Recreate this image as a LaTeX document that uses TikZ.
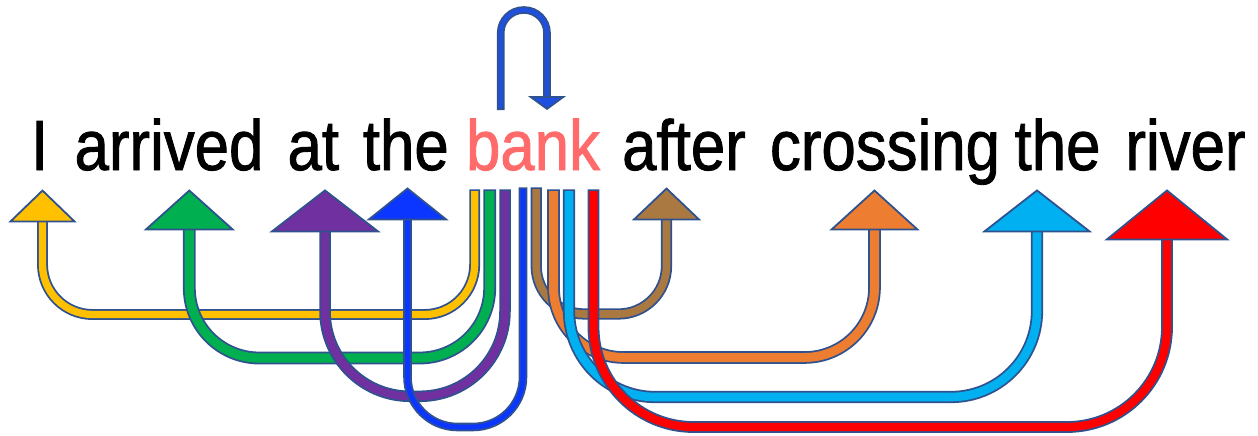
\documentclass[tikz,border=0pt]{standalone}
\usepackage{fontspec}
\usepackage{xcolor}
\usepackage{tikz}
\usetikzlibrary{arrows.meta, calc}
\newfontfamily\wordfont[FakeStretch=0.87, FakeBold=1.2]{Liberation Sans}
\definecolor{rimblue}{HTML}{2F528F}
\definecolor{bankred}{HTML}{FF6B6B}
\definecolor{linkyellow}{HTML}{FFC000}
\definecolor{linkgreen}{HTML}{00B050}
\definecolor{linkpurple}{HTML}{7030A0}
\definecolor{linkblue}{HTML}{0A36FF}
\definecolor{loopblue}{HTML}{1F4FE0}
\definecolor{linkbrown}{HTML}{AA7942}
\definecolor{linkorange}{HTML}{ED7D31}
\definecolor{linkcyan}{HTML}{00B0F0}
\definecolor{linkred}{HTML}{FF0000}
\tikzset{
  word/.style={anchor=base, inner sep=0pt,
               font=\wordfont\fontsize{71pt}{80pt}\selectfont}
}
% #1 colour, #2 shaft width, #3 head width, #4 head length, #5 bend radius, #6 path
\newcommand{\linkarrow}[6]{%
  \draw[rounded corners=#5, line width=#2+3.6pt, draw=rimblue,
        -{Triangle[width=#3, length=#4, fill=#1, line width'=1.8pt]}] #6;
  \draw[rounded corners=#5, line width=#2, draw=#1,
        shorten <=1.8pt, shorten >=#4] #6;
}

\begin{document}
\begin{tikzpicture}[x=1pt, y=-1pt]
  \useasboundingbox (0,0) rectangle (1258,436);

  % the sentence
  \node[word] (w1) at (39.7,170) {I};
  \node[word] (w2) at (169,170) {arrived};
  \node[word] (w3) at (313.3,170) {at};
  \node[word] (w4) at (405.8,170) {the};
  \node[word, text=bankred] (bank) at (533,170) {bank};
  \node[word] (w6) at (684,170) {after};
  \node[word] (w7) at (885,170) {crossing};
  \node[word] (w8) at (1057.5,170) {the};
  \node[word] (w9) at (1185.5,170) {river};

  % feet under "bank"
  \coordinate (b1) at ([shift={(-58.3,19.3)}]bank.base);
  \coordinate (b2) at ([shift={(-43.3,19.3)}]bank.base);
  \coordinate (b3) at ([shift={(-28,19.3)}]bank.base);
  \coordinate (b4) at ([shift={(-10,17.3)}]bank.base);
  \coordinate (b5) at ([shift={(3.2,17.3)}]bank.base);
  \coordinate (b6) at ([shift={(20.5,19.3)}]bank.base);
  \coordinate (b7) at ([shift={(36,19.3)}]bank.base);
  \coordinate (b8) at ([shift={(60.5,19.3)}]bank.base);
  \coordinate (la) at ([shift={(-32.3,-60)}]bank.base);
  \coordinate (lb) at ([shift={(14,-60)}]bank.base);

  % heads under the other words
  \coordinate (t1) at ([shift={(2.8,19.3)}]w1.base);
  \coordinate (t2) at ([shift={(20.3,19.3)}]w2.base);
  \coordinate (t3) at ([shift={(11.7,19.3)}]w3.base);
  \coordinate (t4) at ([shift={(1.7,17.3)}]w4.base);
  \coordinate (t6) at ([shift={(-17.5,17.3)}]w6.base);
  \coordinate (t7) at ([shift={(-10.5,19.3)}]w7.base);
  \coordinate (t8) at ([shift={(-20.5,19.3)}]w8.base);
  \coordinate (t9) at ([shift={(-18.5,19.3)}]w9.base);

  % bank to itself
  \linkarrow{loopblue}{4pt}{38pt}{14pt}{23pt}{(la) -- ++(0,-100) -| (lb)}

  % links to the left
  \linkarrow{linkyellow}{7.3pt}{68pt}{33pt}{50pt}{(b1) -- ++(0,125.2) -| (t1)}
  \linkarrow{linkgreen}{9.2pt}{91pt}{41pt}{70pt}{(b2) -- ++(0,168.7) -| (t2)}
  \linkarrow{linkpurple}{7.9pt}{111pt}{43pt}{85pt}{(b3) -- ++(0,207) -| (t3)}
  \linkarrow{linkblue}{5pt}{82pt}{33pt}{50pt}{(b4) -- ++(0,239.7) -| (t4)}

  % links to the right
  \linkarrow{linkbrown}{7.6pt}{69pt}{33pt}{48pt}{(b5) -- ++(0,126.7) -| (t6)}
  \linkarrow{linkorange}{9pt}{90pt}{41pt}{70pt}{(b6) -- ++(0,168.2) -| (t7)}
  \linkarrow{linkcyan}{8.6pt}{110pt}{43pt}{86pt}{(b7) -- ++(0,207.7) -| (t8)}
  \linkarrow{linkred}{8.2pt}{125pt}{51pt}{100pt}{(b8) -- ++(0,237.7) -| (t9)}
\end{tikzpicture}
\end{document}
